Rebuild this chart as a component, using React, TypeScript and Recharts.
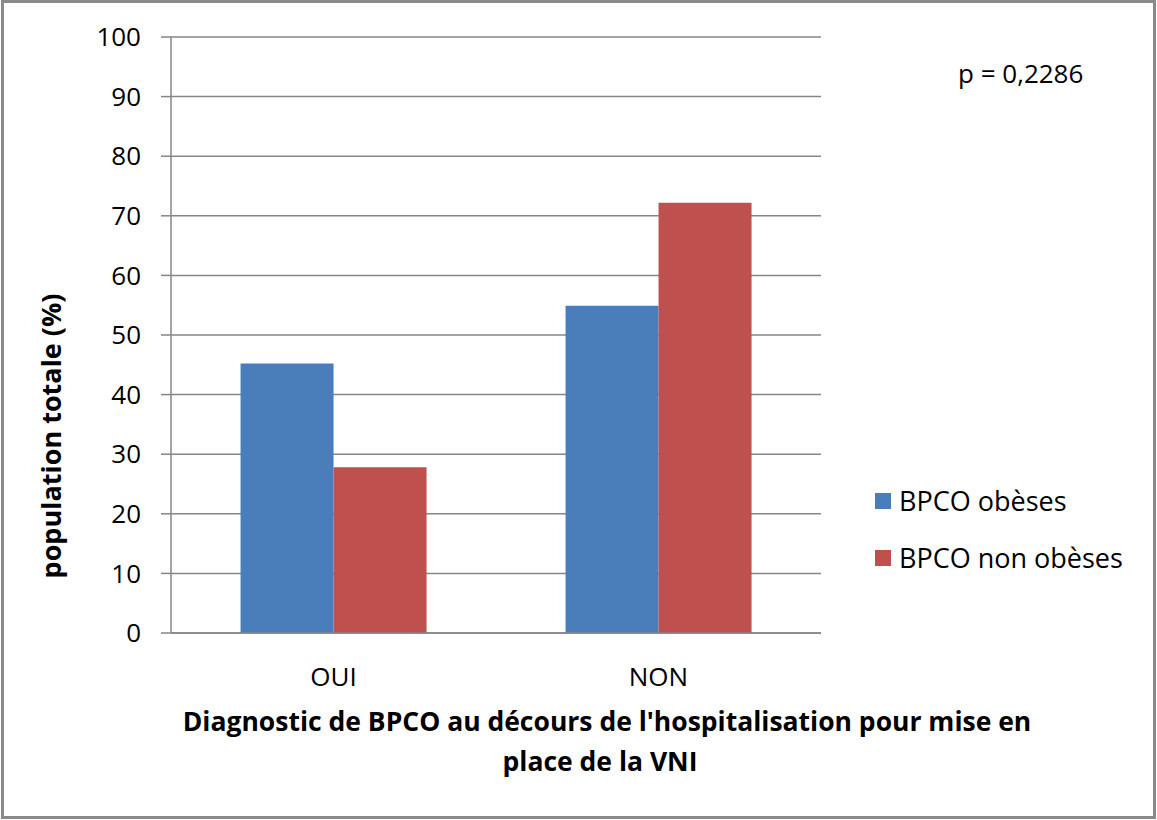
import { BarChart, Bar, XAxis, YAxis, CartesianGrid, Label } from 'recharts'

const categories = ['OUI', 'NON']
const obeses = [45.2, 54.9]
const nonObeses = [27.8, 72.2]
const yTicks = [0, 10, 20, 30, 40, 50, 60, 70, 80, 90, 100]

const seriesNames = ['BPCO obèses', 'BPCO non obèses']
const colors = ['#4a7ebb', '#c0504d']

const data = categories.map((cat, i) => ({
  cat,
  obeses: obeses[i],
  nonObeses: nonObeses[i],
}))

const FONT = '"Open Sans", sans-serif'
const GRID = '#868686'

// legend drawn outside the chart so it does not eat plot width
function LegendBox() {
  return (
    <div
      style={{
        position: 'absolute',
        left: 875,
        top: 472,
        fontFamily: FONT,
        fontSize: 27,
        color: '#000',
        whiteSpace: 'nowrap',
      }}
    >
      {seriesNames.map((name, i) => (
        <div key={name} style={{ display: 'flex', alignItems: 'center', height: 57 }}>
          <span style={{ width: 16, height: 16, background: colors[i], marginRight: 8 }} />
          <span>{name}</span>
        </div>
      ))}
    </div>
  )
}

export default function App() {
  return (
    <div style={{ position: 'absolute', left: 0, top: 0, width: 1157, height: 820, background: '#fff' }}>
      <div
        style={{
          position: 'absolute',
          left: 1,
          top: 0,
          width: 1155,
          height: 819,
          border: '3px solid #8a8a8a',
          boxSizing: 'border-box',
        }}
      />
      <BarChart
        width={1157}
        height={820}
        data={data}
        margin={{ top: 37, right: 336, bottom: 0, left: 0 }}
        barCategoryGap="21.4%"
        barGap={0}
        style={{ fontFamily: FONT }}
      >
        <CartesianGrid vertical={false} stroke={GRID} strokeWidth={1.5} />
        <XAxis
          dataKey="cat"
          height={187}
          axisLine={{ stroke: GRID, strokeWidth: 1.5 }}
          tickLine={false}
          tickMargin={29}
          tick={{ fill: '#000', fontSize: 26 }}
        >
          <Label
            content={() => (
              <text textAnchor="middle" fontWeight="bold" fontSize={26.5} fill="#000" fontFamily={FONT}>
                <tspan x={607} y={731}>Diagnostic de BPCO au décours de l'hospitalisation pour mise en</tspan>
                <tspan x={600} y={771}>place de la VNI</tspan>
              </text>
            )}
          />
        </XAxis>
        <YAxis
          width={171}
          domain={[0, 100]}
          ticks={yTicks}
          interval={0}
          axisLine={{ stroke: GRID, strokeWidth: 1.5 }}
          tickLine={{ stroke: GRID, strokeWidth: 1.5 }}
          tickSize={10}
          tickMargin={20}
          tick={{ fill: '#000', fontSize: 26 }}
        >
          <Label
            content={() => (
              <text
                x={50}
                y={436}
                transform="rotate(-90 50 436)"
                textAnchor="middle"
                dominantBaseline="central"
                fontWeight="bold"
                fontSize={27}
                fill="#000"
                fontFamily={FONT}
              >
                population totale (%)
              </text>
            )}
          />
        </YAxis>
        <Bar dataKey="obeses" name={seriesNames[0]} fill={colors[0]} isAnimationActive={false} />
        <Bar dataKey="nonObeses" name={seriesNames[1]} fill={colors[1]} isAnimationActive={false} />
      </BarChart>
      <LegendBox />
      <div
        style={{
          position: 'absolute',
          left: 958,
          top: 58,
          fontFamily: FONT,
          fontSize: 26,
          lineHeight: '30px',
          color: '#000',
          whiteSpace: 'nowrap',
        }}
      >
        p = 0,2286
      </div>
    </div>
  )
}
